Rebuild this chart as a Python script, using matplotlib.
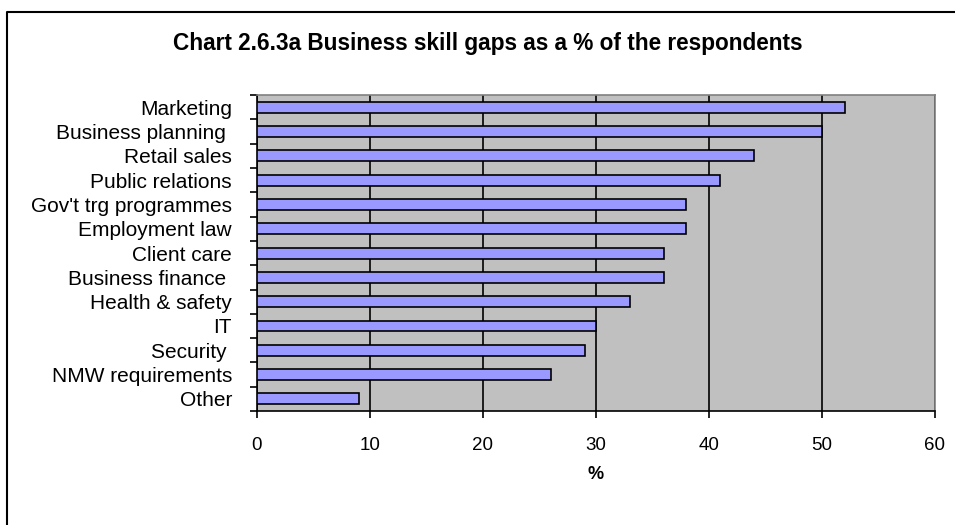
import matplotlib.pyplot as plt
from matplotlib.lines import Line2D
import numpy as np

plt.rcParams['font.family'] = ['Liberation Sans', 'DejaVu Sans']

categories = ["Marketing", "Business planning ", "Retail sales", "Public relations",
              "Gov't trg programmes", "Employment law", "Client care", "Business finance ",
              "Health & safety", "IT", "Security ", "NMW requirements", "Other"]
values = [52, 50, 44, 41, 38, 38, 36, 36, 33, 30, 29, 26, 9]

fig = plt.figure(figsize=(9.55, 5.25), dpi=100)
# outer chart frame (only left and top edges fall inside the image)
fig.lines.append(Line2D([0.0075, 0.0075, 1.0], [0.0, 0.977, 0.977], transform=fig.transFigure,
                        color='black', linewidth=1.5))
ax = fig.add_axes([0.269, 0.217, 0.710, 0.602])
ax.set_facecolor('#c0c0c0')

y = np.arange(len(categories))
ax.barh(y, values, height=0.45, color='#9999ff', edgecolor='black', linewidth=1.2, zorder=3)

ax.set_xlim(0, 60)
ax.set_ylim(len(categories) - 0.5, -0.5)
ax.set_xticks(range(0, 61, 10))
ax.xaxis.grid(True, color='black', linewidth=1.2, zorder=0)
ax.set_axisbelow(True)

ax.set_yticks(y)
ax.set_yticklabels(categories, fontsize=15)
ax.tick_params(axis='y', length=0, pad=18)
ax.set_yticks(np.arange(-0.5, len(categories), 1), minor=True)
ax.tick_params(axis='y', which='minor', length=5, width=1.2, direction='out')
ax.tick_params(axis='x', length=5, width=1.2, direction='out', labelsize=13.5, pad=14)

for side in ['top', 'right']:
    ax.spines[side].set_color('#808080')
    ax.spines[side].set_linewidth(1.2)
for side in ['left', 'bottom']:
    ax.spines[side].set_color('black')
    ax.spines[side].set_linewidth(1.2)

ax.set_xlabel('%', fontsize=13, fontweight='bold', labelpad=8)
fig.text(0.511, 0.918, 'Chart 2.6.3a Business skill gaps as a % of the respondents',
         ha='center', va='center', fontsize=16.3, fontweight='bold')

fig.savefig('out.png', dpi=100)
